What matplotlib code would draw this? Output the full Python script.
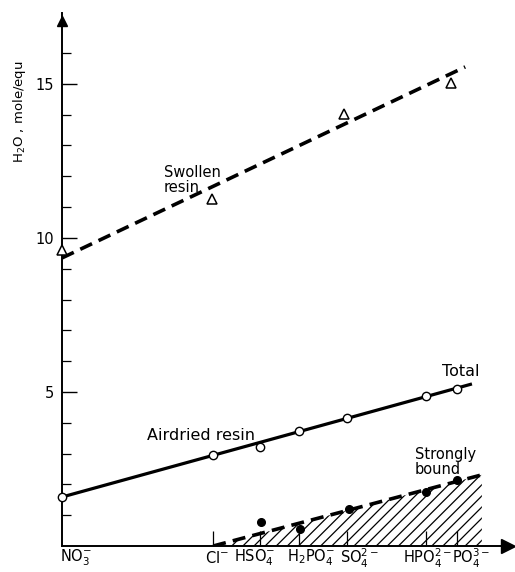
import matplotlib
matplotlib.use("Agg")
import matplotlib.pyplot as plt
import numpy as np

# ---------------- data ----------------
anions = ['NO$_3^{-}$', 'Cl$^{-}$', 'HSO$_4^{-}$', 'H$_2$PO$_4^{-}$',
          'SO$_4^{2-}$', 'HPO$_4^{2-}$', 'PO$_4^{3-}$']
anion_pos = [0.0, 3.36, 4.40, 5.27, 6.33, 8.09, 8.78]

# air-dried resin (total water), open circles
total_water = [1.59, 2.95, 3.21, 3.73, 4.16, 4.87, 5.10]
total_fit_x = [0.0, 9.11]
total_fit_y = [1.59, 5.26]

# swollen resin, open triangles
swollen_pos = [0.0, 3.33, 6.27, 8.64]
swollen_water = [9.61, 11.27, 14.03, 15.03]
swollen_fit_x = [0.0, 8.96]
swollen_fit_y = [9.35, 15.55]

# strongly bound water, filled dots
bound_pos = [4.42, 5.29, 6.38, 8.09, 8.78]
bound_water = [0.78, 0.55, 1.20, 1.75, 2.14]
bound_fit_x = [3.36, 9.33]
bound_fit_y = [0.0, 2.31]

yticks_major = [5, 10, 15]

# ---------------- figure ----------------
plt.rcParams['font.family'] = ['DejaVu Sans']
W, H = 515, 572
fig = plt.figure(figsize=(W / 100, H / 100), dpi=100)
ax = fig.add_axes([62 / W, 26 / H, 450 / W, 533 / H])
ax.set_xlim(0, 10.0)
ax.set_ylim(0, 17.3)
ax.set_facecolor('none')

for s in ['top', 'right']:
    ax.spines[s].set_visible(False)
ax.spines['left'].set_linewidth(1.4)
ax.spines['bottom'].set_linewidth(1.4)

# hatched strongly bound area
xb = np.array(bound_fit_x)
yb = np.array(bound_fit_y)
plt.rcParams['hatch.linewidth'] = 0.9
ax.fill_between(xb, 0, yb, facecolor='white', edgecolor='black',
                hatch='///', linewidth=0, zorder=1)

# lines
ax.plot(total_fit_x, total_fit_y, color='black', lw=2.3, zorder=3,
        solid_capstyle='butt')
ax.plot(swollen_fit_x, swollen_fit_y, color='black', lw=2.6,
        dashes=(3.6, 2.0), zorder=3)
ax.plot(bound_fit_x, bound_fit_y, color='black', lw=2.6,
        dashes=(3.6, 2.0), zorder=3)

# markers
ax.plot(anion_pos, total_water, 'o', ms=6, mfc='white', mec='black',
        mew=1.0, zorder=5, clip_on=False)
ax.plot(swollen_pos, swollen_water, '^', ms=7, mfc='white', mec='black',
        mew=1.1, zorder=5, clip_on=False)
ax.plot(bound_pos, bound_water, 'o', ms=5.5, color='black', zorder=5)

# axis arrows
ax.plot([9.92], [0], marker='>', ms=10, color='black', clip_on=False,
        zorder=6)
ax.plot([0], [17.05], marker='^', ms=7, color='black', clip_on=False,
        zorder=6)

# ticks
ax.set_yticks(yticks_major)
ax.set_yticklabels([str(v) for v in yticks_major], fontsize=10.5)
ax.set_yticks(np.arange(1, 17), minor=True)
ax.tick_params(axis='y', which='major', direction='in', length=11,
               width=1.0, pad=6)
ax.tick_params(axis='y', which='minor', direction='in', length=6.5,
               width=0.9)
ax.set_xticks(anion_pos[1:])
ax.set_xticklabels([])
ax.tick_params(axis='x', which='major', direction='in', length=11,
               width=0.9)

# x category labels (pixel offsets from tick positions)
label_dx_px = [14, 4, -5, 12, 13, 2, 14]
for name, pos, dx in zip(anions, anion_pos, label_dx_px):
    ax.annotate(name, xy=(pos, 0), xycoords='data',
                xytext=(dx * 0.72, -12 * 0.72), textcoords='offset points',
                ha='center', va='center', fontsize=10.5)

# y label
fig.text(20 / W, 1 - 112 / H, 'H$_2$O , mole/equ', rotation=90,
         ha='center', va='center', fontsize=9.5)

# annotations
def px(xp, yp):
    return ((xp - 62) / 45.0, (546 - yp) / 30.8)

ax.text(*px(164, 180), 'Swollen\nresin', ha='left', va='center',
        fontsize=10.5, linespacing=1.0)
ax.text(*px(201, 436), 'Airdried resin', ha='center', va='center',
        fontsize=11.5)
ax.text(*px(461, 372), 'Total', ha='center', va='center', fontsize=11.5)
ax.text(*px(415, 462), 'Strongly\nbound', ha='left', va='center',
        fontsize=10.5, linespacing=1.0)

fig.savefig('out.png', dpi=100)
